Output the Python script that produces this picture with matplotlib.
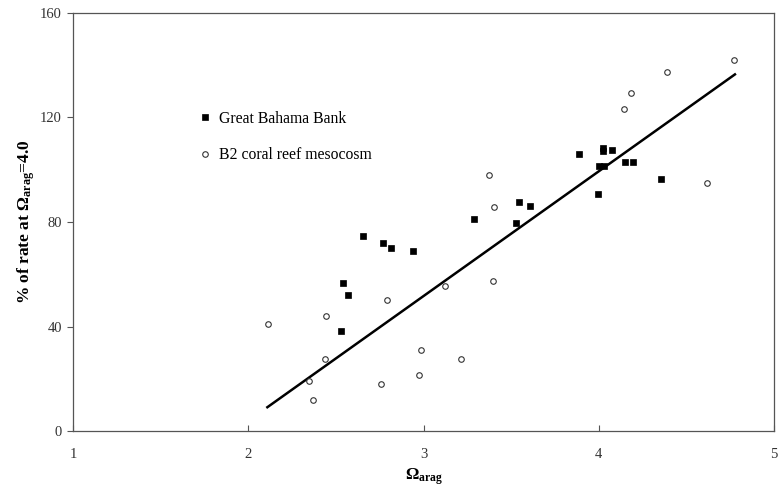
import matplotlib
matplotlib.use("Agg")
import matplotlib.pyplot as plt

# Great Bahama Bank (filled squares)
gbb_omega = [2.657, 2.771, 2.815, 2.94, 2.539, 2.571, 2.531, 3.29, 3.53, 3.545, 3.61,
             3.89, 3.998, 4.0, 4.03, 4.026, 4.026, 4.077, 4.148, 4.197, 4.353]
gbb_rate = [74.8, 71.8, 70.2, 68.8, 56.8, 51.9, 38.3, 81.1, 79.6, 87.7, 86.1,
            106.0, 90.7, 101.5, 101.5, 108.4, 107.3, 107.6, 102.9, 102.9, 96.5]

# B2 coral reef mesocosm (open circles)
b2_omega = [2.111, 2.442, 2.792, 3.123, 2.436, 2.347, 2.371, 2.756, 2.973, 2.984,
            3.216, 3.372, 3.402, 3.398, 4.618, 4.146, 4.182, 4.388, 4.772]
b2_rate = [40.8, 44.1, 50.0, 55.4, 27.4, 19.3, 11.9, 18.1, 21.3, 31.1,
           27.7, 98.1, 85.6, 57.4, 94.8, 123.3, 129.5, 137.5, 142.1]

# regression line end points
fit_omega = [2.109, 4.777]
fit_rate = [9.1, 136.5]

x_ticks = [1, 2, 3, 4, 5]
y_ticks = [0, 40, 80, 120, 160]

plt.rcParams['font.family'] = ['Liberation Serif', 'DejaVu Serif']
plt.rcParams['mathtext.fontset'] = 'custom'
plt.rcParams['mathtext.rm'] = 'Liberation Serif'
plt.rcParams['mathtext.bf'] = 'Liberation Serif:bold'
plt.rcParams['mathtext.it'] = 'Liberation Serif:italic'

fig = plt.figure(figsize=(7.83, 4.88), dpi=100)
ax = fig.add_axes([73/783, 1-431/488, (774-73)/783, (431-13)/488])

ax.plot(fit_omega, fit_rate, color='black', lw=1.8, zorder=2)
ax.plot(gbb_omega, gbb_rate, linestyle='none', marker='s', ms=4.3, mfc='black',
        mec='black', mew=0.5, label='Great Bahama Bank', zorder=3)
ax.plot(b2_omega, b2_rate, linestyle='none', marker='o', ms=4.0, mfc='white',
        mec='#333333', mew=0.8, label='B2 coral reef mesocosm', zorder=3)

ax.set_xlim(1, 5)
ax.set_ylim(0, 160)
ax.set_xticks(x_ticks)
ax.set_yticks(y_ticks)
ax.set_xticklabels([str(v) for v in x_ticks])
ax.set_yticklabels([str(v) for v in y_ticks])
ax.tick_params(axis='x', direction='in', length=4, width=0.8, color='#555555',
               labelsize=10.5, labelcolor='#333333', pad=12)
ax.tick_params(axis='y', direction='out', length=4, width=0.8, color='#555555',
               labelsize=10.5, labelcolor='#333333', pad=4)
for s in ax.spines.values():
    s.set_color('#555555')
    s.set_linewidth(0.9)

ax.set_xlabel(r'$\mathbf{\Omega}_{\mathbf{arag}}$', fontsize=12, fontweight='bold', labelpad=4)
ax.set_ylabel(r'% of rate at $\mathbf{\Omega}_{\mathbf{arag}}$=4.0', fontsize=12.5,
              fontweight='bold', labelpad=2)

leg = ax.legend(loc='upper left', bbox_to_anchor=(0.17, 0.785), frameon=False,
                fontsize=11.3, handlelength=0.6, handletextpad=0.6,
                labelspacing=1.3, borderpad=0)

fig.savefig('out.png', dpi=100)
